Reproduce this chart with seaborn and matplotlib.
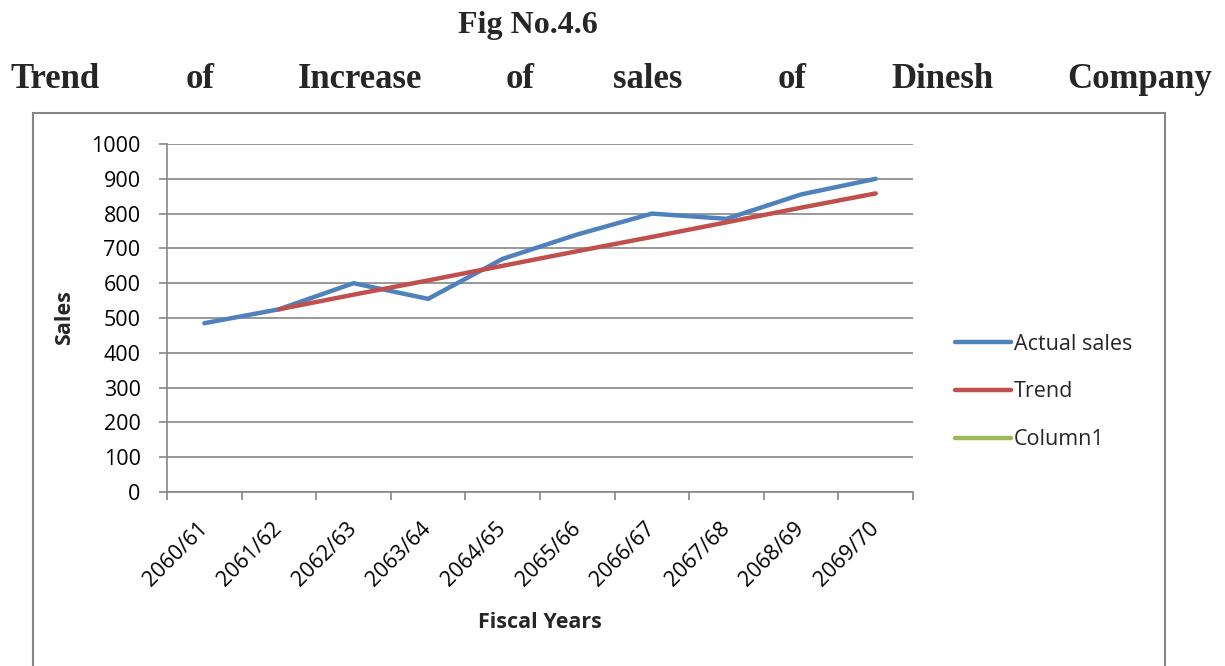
import matplotlib
matplotlib.use("Agg")
import matplotlib.pyplot as plt
from matplotlib.patches import Rectangle
from matplotlib.ticker import FixedLocator, NullFormatter, FixedFormatter
import numpy as np
import pandas as pd
import seaborn as sns

# Fiscal years and sales figures
years = ["2060/61", "2061/62", "2062/63", "2063/64", "2064/65",
         "2065/66", "2066/67", "2067/68", "2068/69", "2069/70"]
actual_sales = [485, 525, 600, 555, 670, 740, 800, 785, 855, 900]
trend = [np.nan, 525, 567, 608, 650, 692, 733, 775, 817, 858]
column1 = []

yticks = [0, 100, 200, 300, 400, 500, 600, 700, 800, 900, 1000]

BLUE = "#4F81BD"
RED = "#C0504D"
GREEN = "#9BBB59"
GRID = "#868686"
FS = 15.5

sns.set_theme(style="white")
plt.rcParams["font.family"] = ["Open Sans", "DejaVu Sans"]

W, H = 1225, 666
fig = plt.figure(figsize=(W / 100, H / 100), dpi=100)
fig.patch.set_facecolor("white")

def fx(px):
    return px / W

def fy(py):
    return 1 - py / H

ax = fig.add_axes([fx(167), fy(492), fx(913) - fx(167), fy(144) - fy(492)])

df = pd.DataFrame({"Fiscal Years": years,
                   "Actual sales": actual_sales,
                   "Trend": trend})

sns.lineplot(data=df, x="Fiscal Years", y="Actual sales", ax=ax,
             color=BLUE, linewidth=3.2, label="Actual sales", sort=False)
sns.lineplot(data=df.dropna(), x="Fiscal Years", y="Trend", ax=ax,
             color=RED, linewidth=3.2, label="Trend", sort=False)
ax.plot(column1, column1, color=GREEN, linewidth=3.2, label="Column1")

n = len(years)
ax.set_xlim(-0.5, n - 0.5)
ax.set_ylim(0, 1000)

# y axis
ax.yaxis.set_major_locator(FixedLocator(yticks))
ax.set_yticklabels([str(v) for v in yticks])
ax.yaxis.grid(True, color=GRID, linewidth=1.2)
ax.xaxis.grid(False)

# x axis: tick marks on category boundaries, labels at category centres
ax.xaxis.set_major_locator(FixedLocator(np.arange(-0.5, n, 1.0)))
ax.xaxis.set_major_formatter(NullFormatter())
ax.xaxis.set_minor_locator(FixedLocator(np.arange(n)))
ax.xaxis.set_minor_formatter(FixedFormatter(years))
ax.tick_params(axis="x", which="major", length=6, width=1.2, color=GRID,
               direction="out", bottom=True)
ax.tick_params(axis="x", which="minor", length=0, pad=24, labelsize=FS,
               labelcolor="black", bottom=True)
ax.tick_params(axis="y", which="major", length=6, width=1.2, color=GRID,
               direction="out", left=True, labelsize=FS, pad=13,
               labelcolor="black")
for lbl in ax.get_xticklabels(minor=True):
    lbl.set_rotation(45)
    lbl.set_ha("right")
    lbl.set_va("center")
    lbl.set_rotation_mode("anchor")

for side in ["top", "right"]:
    ax.spines[side].set_visible(False)
for side in ["left", "bottom"]:
    ax.spines[side].set_color(GRID)
    ax.spines[side].set_linewidth(1.2)

ax.set_xlabel("")
ax.set_ylabel("")

fig.text(fx(65), fy(318), "Sales", rotation=90, ha="center", va="center",
         fontsize=FS, fontweight="bold")
fig.text(fx(540), fy(622), "Fiscal Years", ha="center", va="center",
         fontsize=FS, fontweight="bold")

# legend on the right
handles, labels = ax.get_legend_handles_labels()
if ax.legend_:
    ax.legend_.remove()
fig.legend(handles, labels, loc="center left",
           bbox_to_anchor=(fx(946), fy(392)), frameon=False,
           fontsize=FS, handlelength=2.6, handletextpad=0.15,
           labelspacing=1.25, borderaxespad=0)

# chart box
fig.patches.append(Rectangle((fx(33), fy(720)), fx(1165) - fx(33),
                             fy(113) - fy(720), transform=fig.transFigure,
                             fill=False, edgecolor=GRID, linewidth=1.5))

# headings
serif = ["Liberation Serif", "DejaVu Serif"]
fig.text(fx(528), fy(25), "Fig No.4.6", ha="center", va="center",
         family=serif, fontsize=23, fontweight="bold")
words = ["Trend", "of", "Increase", "of", "sales", "of", "Dinesh", "Company"]
centres = [52, 200, 360, 520, 648, 792, 942, 1140]
for wd, cx in zip(words, centres):
    ha = "center"
    x = cx
    if wd == "Trend":
        ha, x = "left", 10
    elif wd == "Company":
        ha, x = "right", 1212
    fig.text(fx(x), fy(79), wd, ha=ha, va="center", family=serif,
             fontsize=25, fontweight="bold")

fig.savefig("out.png", dpi=100, facecolor="white")
